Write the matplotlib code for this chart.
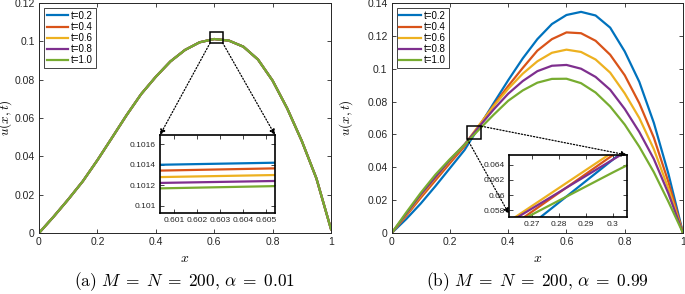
import matplotlib
matplotlib.use('Agg')
import matplotlib.pyplot as plt
from matplotlib.patches import Rectangle, ConnectionPatch

plt.rcParams['font.family'] = ['Liberation Sans', 'DejaVu Sans']
plt.rcParams['mathtext.fontset'] = 'cm'

labels = ['t=0.2', 't=0.4', 't=0.6', 't=0.8', 't=1.0']
colors = ['#0072BD', '#D95319', '#EDB120', '#7E2F8E', '#77AC30']

x = [0, 0.05, 0.1, 0.15, 0.2, 0.25, 0.3, 0.35, 0.4, 0.45, 0.5,
     0.55, 0.6, 0.65, 0.7, 0.75, 0.8, 0.85, 0.9, 0.95, 1.0]

# (a) alpha = 0.01 : all five curves lie on top of each other
u_a = [0, 0.0085, 0.0175, 0.027, 0.038, 0.0497, 0.0615, 0.0725, 0.0815, 0.0895, 0.0955,
       0.0995, 0.1012, 0.1004, 0.0972, 0.0905, 0.0795, 0.0650, 0.0480, 0.0285, 0.002]

# zoomed values near the peak (left/right edge of the inset)
inset_a_x = [0.6004, 0.6054]
inset_a_t02 = [0.10140, 0.10142]
inset_a_t04 = [0.101343, 0.101365]
inset_a_t06 = [0.10128, 0.10130]
inset_a_t08 = [0.101223, 0.101242]
inset_a_t10 = [0.10117, 0.101192]

# (b) alpha = 0.99
u_b_t02 = [0, 0.0085, 0.018, 0.0285, 0.0395, 0.0505, 0.0647, 0.079, 0.093, 0.1063, 0.118,
           0.1272, 0.1327, 0.1346, 0.1324, 0.125, 0.1105, 0.092, 0.067, 0.036, 0]
u_b_t04 = [0, 0.0105, 0.0215, 0.032, 0.0425, 0.0528, 0.0653, 0.0777, 0.0895, 0.1005, 0.111,
           0.118, 0.1221, 0.1216, 0.117, 0.1085, 0.096, 0.079, 0.058, 0.031, 0]
u_b_t06 = [0, 0.0113, 0.0228, 0.0335, 0.044, 0.0538, 0.0657, 0.0772, 0.0878, 0.097, 0.1045,
           0.1097, 0.1116, 0.1102, 0.1056, 0.0976, 0.085, 0.070, 0.051, 0.027, 0]
u_b_t08 = [0, 0.0118, 0.0235, 0.034, 0.0445, 0.0539, 0.0647, 0.0752, 0.0848, 0.0925, 0.0985,
           0.1018, 0.1023, 0.1000, 0.0950, 0.0872, 0.0755, 0.0615, 0.045, 0.024, 0]
u_b_t10 = [0, 0.0125, 0.0245, 0.0355, 0.045, 0.0537, 0.063, 0.072, 0.0805, 0.0868, 0.0915,
           0.0938, 0.0939, 0.0912, 0.0855, 0.077, 0.066, 0.0525, 0.037, 0.019, 0]

u_b = [u_b_t02, u_b_t04, u_b_t06, u_b_t08, u_b_t10]
inset_a = [inset_a_t02, inset_a_t04, inset_a_t06, inset_a_t08, inset_a_t10]

axcol = '#262626'
W, H = 685, 294


def frac(x0, y0, x1, y1):
    # pixel box -> figure fraction
    return [x0 / W, 1 - y1 / H, (x1 - x0) / W, (y1 - y0) / H]


def style(ax, fs):
    ax.tick_params(direction='in', top=True, right=True, labelsize=fs,
                   colors=axcol, length=3, width=0.6, pad=3)
    for s in ax.spines.values():
        s.set_color(axcol)
        s.set_linewidth(0.7)


fig = plt.figure(figsize=(6.85, 2.94), dpi=100)

axA = fig.add_axes(frac(39, 3, 331, 233))
axB = fig.add_axes(frac(391.7, 3, 683, 233))

for i in range(5):
    axA.plot(x, u_a, color=colors[i], lw=1.6, label=labels[i])
    axB.plot(x, u_b[i], color=colors[i], lw=1.6, label=labels[i])

axA.set_xlim(0, 1)
axA.set_ylim(0, 0.12)
axA.set_yticks([0, 0.02, 0.04, 0.06, 0.08, 0.1, 0.12])
axA.set_yticklabels(['0', '0.02', '0.04', '0.06', '0.08', '0.1', '0.12'])
axB.set_xlim(0, 1)
axB.set_ylim(0, 0.14)
axB.set_yticks([0, 0.02, 0.04, 0.06, 0.08, 0.1, 0.12, 0.14])
axB.set_yticklabels(['0', '0.02', '0.04', '0.06', '0.08', '0.1', '0.12', '0.14'])

caps = [r'$\mathrm{(a)}\ M \;=\; N \;=\; 200,\,\alpha \;=\; 0.01$',
        r'$\mathrm{(b)}\ M \;=\; N \;=\; 200,\,\alpha \;=\; 0.99$']
for ax, cap, ylx in [(axA, caps[0], -0.087), (axB, caps[1], -0.125)]:
    ax.set_xticks([0, 0.2, 0.4, 0.6, 0.8, 1])
    ax.set_xticklabels(['0', '0.2', '0.4', '0.6', '0.8', '1'])
    style(ax, 7.5)
    ax.set_xlabel('$x$', fontsize=10)
    ax.xaxis.set_label_coords(0.5, -0.08)
    ax.set_ylabel('$u(x,t)$', fontsize=9.5)
    ax.yaxis.set_label_coords(ylx, 0.5)
    leg = ax.legend(loc='upper left', fontsize=7, handlelength=2.2,
                    borderaxespad=0.5, fancybox=False, framealpha=1,
                    labelspacing=0.12, handletextpad=0.3, borderpad=0.3)
    leg.get_frame().set_edgecolor(axcol)
    leg.get_frame().set_linewidth(0.6)
    ax.text(0.5, -0.212, cap, transform=ax.transAxes, ha='center', va='center',
            fontsize=12.5)

# inset (a)
inA = fig.add_axes(frac(160, 135, 275, 213))
for i in range(5):
    inA.plot(inset_a_x, inset_a[i], color=colors[i], lw=1.6)
inA.set_xlim(0.6004, 0.6054)
inA.set_ylim(0.10093, 0.10169)
inA.set_xticks([0.601, 0.602, 0.603, 0.604, 0.605])
inA.set_xticklabels(['0.601', '0.602', '0.603', '0.604', '0.605'])
inA.set_yticks([0.101, 0.1012, 0.1014, 0.1016])
inA.set_yticklabels(['0.101', '0.1012', '0.1014', '0.1016'])
style(inA, 6)
for s in inA.spines.values():
    s.set_color('black')
    s.set_linewidth(1.2)

# inset (b)
inB = fig.add_axes(frac(509, 155, 627, 217))
for i in range(5):
    inB.plot(x, u_b[i], color=colors[i], lw=1.6)
inB.set_xlim(0.2615, 0.3052)
inB.set_ylim(0.0571, 0.0653)
inB.set_xticks([0.27, 0.28, 0.29, 0.3])
inB.set_xticklabels(['0.27', '0.28', '0.29', '0.3'])
inB.set_yticks([0.058, 0.06, 0.062, 0.064])
inB.set_yticklabels(['0.058', '0.06', '0.062', '0.064'])
style(inB, 6)
for s in inB.spines.values():
    s.set_color('black')
    s.set_linewidth(1.2)

# zoom boxes and dotted arrows
axA.add_patch(Rectangle((0.586, 0.0992), 0.043, 0.0058, fill=False,
                        ec='black', lw=1.1, zorder=5))
axB.add_patch(Rectangle((0.26, 0.057), 0.048, 0.008, fill=False,
                        ec='black', lw=1.1, zorder=5))

links = [(axA, (0.586, 0.0992), inA, (0, 1)),
         (axA, (0.629, 0.0992), inA, (1, 1)),
         (axB, (0.308, 0.065), inB, (1, 1)),
         (axB, (0.26, 0.057), inB, (0, 0.05))]
for a, pa, b, pb in links:
    con = ConnectionPatch(xyA=pa, coordsA=a.transData, xyB=pb, coordsB=b.transAxes,
                          arrowstyle='-|>', linestyle=(0, (1, 1.5)), lw=0.9,
                          color='black', mutation_scale=8, zorder=10)
    fig.add_artist(con)

fig.savefig('out.png', dpi=100)
